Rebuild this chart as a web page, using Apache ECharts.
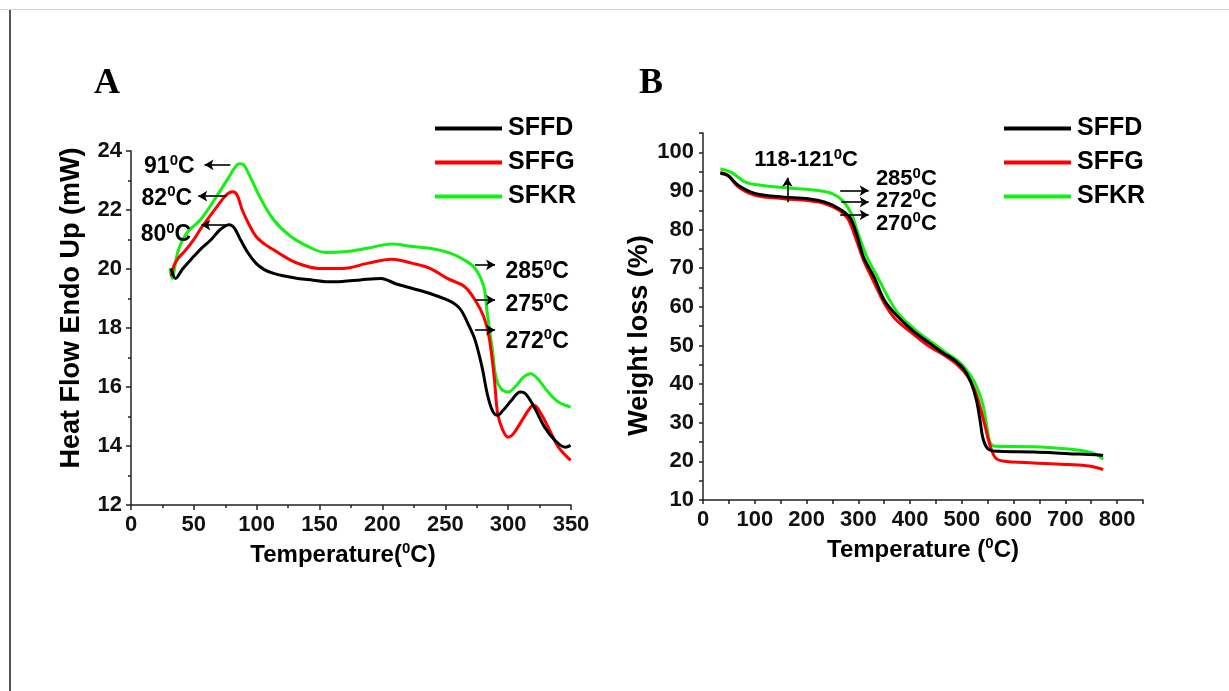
<!DOCTYPE html>
<html>
<head>
<meta charset="utf-8">
<script src="https://cdn.jsdelivr.net/npm/echarts@6/dist/echarts.min.js"></script>
<style>
  html, body { margin: 0; padding: 0; background: #fff; }
  #topline { position: absolute; left: 0; top: 9px; width: 1229px; height: 0; border-top: 1px solid #d4d4d4; }
  #leftline { position: absolute; left: 9px; top: 10px; width: 0; height: 681px; border-left: 2px solid #555; }
  #chart { position: absolute; left: 0; top: 0; width: 1229px; height: 691px; }
</style>
</head>
<body>
<div id="topline"></div>
<div id="leftline"></div>
<div id="chart"></div>
<script>
// ---- panel A : DSC, heat flow (mW) vs temperature (C)
var dscT_SFFD  = [32, 35.4, 41, 49.8, 56, 63.6, 70, 74.6, 78, 82, 87.1, 93, 99.5, 106, 113.4, 122, 132.7, 145, 154.8, 168, 182.5, 199, 210, 224, 237.8, 251.6, 258, 262.6, 268, 273.7, 279.2, 283.4, 287.5, 291.7, 295.8, 302.7, 309.6, 313.8, 320.7, 329, 337.3, 345.6, 349.7];
var dscHF_SFFD = [20.02, 19.68, 20.0, 20.42, 20.7, 20.99, 21.3, 21.45, 21.5, 21.4, 20.99, 20.55, 20.19, 19.98, 19.85, 19.76, 19.68, 19.62, 19.57, 19.58, 19.63, 19.68, 19.51, 19.34, 19.17, 18.95, 18.8, 18.6, 18.15, 17.59, 16.68, 15.77, 15.2, 15.04, 15.2, 15.55, 15.83, 15.77, 15.32, 14.64, 14.19, 13.96, 14.02];

var dscT_SFFG  = [32, 34, 37.3, 43, 49.8, 56, 63.6, 69, 74.6, 78, 81, 84.5, 88.5, 94, 99.5, 106, 113.4, 122, 132.7, 149.3, 168.6, 188, 207.4, 224, 237.8, 251.6, 265.4, 273.7, 280.6, 284.8, 288.9, 291.7, 295.8, 300, 304.1, 311, 318, 320.7, 326.2, 333.1, 340, 349.7];
var dscHF_SFFG = [19.75, 20.1, 20.35, 20.62, 20.99, 21.4, 21.84, 22.15, 22.46, 22.58, 22.62, 22.5, 22.0, 21.5, 21.1, 20.85, 20.65, 20.42, 20.19, 20.02, 20.02, 20.19, 20.33, 20.19, 20.02, 19.68, 19.4, 18.95, 18.38, 17.7, 16.34, 15.09, 14.53, 14.3, 14.41, 14.87, 15.32, 15.38, 15.09, 14.53, 13.96, 13.51];

var dscT_SFKR  = [31, 32.6, 37.3, 44.2, 55.3, 66.4, 77.4, 82, 86, 89, 94, 102.3, 113.4, 127.2, 143.8, 154.8, 171.4, 188, 207.4, 224, 237.8, 254.4, 265.4, 273.7, 280.6, 283.4, 287.5, 290.3, 294.4, 300, 305.5, 312.4, 318, 323.5, 331.8, 340, 349.7];
var dscHF_SFKR = [20.02, 19.68, 20.59, 21.21, 21.67, 22.35, 23.08, 23.4, 23.57, 23.55, 23.2, 22.46, 21.67, 21.1, 20.7, 20.56, 20.59, 20.7, 20.85, 20.76, 20.7, 20.53, 20.3, 20.02, 19.4, 18.5, 17.25, 16.34, 15.94, 15.83, 16.0, 16.34, 16.45, 16.28, 15.83, 15.49, 15.32];

// ---- panel B : TGA, weight loss (%) vs temperature (C)
var tgaT_SFFD  = [33.6, 48.3, 68.5, 102, 155.7, 202.7, 236, 263, 283.2, 296.6, 310, 330, 350.3, 370.5, 404, 437.6, 464.4, 484.6, 504.7, 518, 528, 535, 541.6, 551.7, 571.8, 639, 706, 759.7, 773];
var tgaW_SFFD  = [94.6, 94.0, 91.4, 89.3, 88.4, 88.0, 87.1, 85.4, 83.2, 78.9, 72.9, 67.8, 61.7, 58.3, 54.0, 50.6, 48.0, 46.3, 43.7, 40.3, 36.0, 30.8, 25.6, 23.1, 22.6, 22.4, 22.0, 21.7, 21.5];

var tgaT_SFFG  = [33.6, 48.3, 68.5, 102, 155.7, 202.7, 236, 263, 279.9, 296.6, 310, 330, 350.3, 370.5, 404, 437.6, 464.4, 491.3, 511.4, 524.8, 535, 545, 555, 565, 578.5, 639, 706, 746, 773];
var tgaW_SFFG  = [94.8, 94.0, 91.0, 88.8, 88.0, 87.5, 86.7, 85.0, 82.8, 77.2, 72.1, 66.5, 60.9, 57.0, 53.2, 49.7, 47.6, 45.0, 42.0, 38.5, 34.2, 29.1, 23.9, 20.9, 20.1, 19.6, 19.2, 18.8, 17.9];

var tgaT_SFKR  = [33.6, 55, 81.9, 115.4, 169, 222.8, 249.7, 269.8, 286.6, 300, 316.8, 337, 357, 377.2, 410.7, 444.3, 471, 498, 518, 531.5, 541.6, 548.3, 555, 565, 639, 706, 739.6, 759.7, 773];
var tgaW_SFKR  = [95.7, 94.8, 92.3, 91.4, 90.7, 90.1, 89.3, 87.5, 84.1, 78.9, 72.9, 67.8, 62.6, 58.3, 54.0, 50.6, 48.0, 45.4, 42.0, 38.5, 34.2, 29.1, 24.8, 23.9, 23.8, 23.2, 22.6, 21.8, 20.5];

var seriesNames = ['SFFD', 'SFFG', 'SFKR'];
var seriesColors = ['#000000', '#ff0000', '#14f014'];

// annotations: arrow [x0, y0, x1, y1] (head at x1,y1) and label [x, y, text, side]
var arrowsA = [[79, 23.53, 58.5, 23.53], [76, 22.47, 53.5, 22.47], [76, 21.49, 56, 21.49],
               [273.7, 20.14, 289.6, 20.14], [273.7, 18.95, 289.6, 18.95], [273.7, 17.93, 289.6, 17.93]];
var labelsA = [[51, 23.46, '91', 'left'], [49, 22.4, '82', 'left'], [48.3, 21.15, '80', 'left'],
               [297.5, 19.9, '285', 'right'], [297.5, 18.78, '275', 'right'], [297.5, 17.55, '272', 'right']];
var arrowsB = [[163, 87.1, 163, 93.4], [265, 90.1, 320, 90.1], [267, 87.1, 320, 87.1], [265, 83.8, 320, 83.8]];
var labelsB = [[199, 97.9, '118-121', 'center'], [333, 93.0, '285', 'right'], [333, 87.5, '272', 'right'], [333, 81.5, '270', 'right']];

var fontFam = '"Liberation Sans", Arial, sans-serif';

function zip(xs, ys) {
  return xs.map(function (x, i) { return [x, ys[i]]; });
}

function degRich(size, supSize) {
  return {
    n: { fontSize: size, fontWeight: 'bold', fontFamily: fontFam, color: '#000', lineHeight: size + 4 },
    s: { fontSize: supSize, fontWeight: 'bold', fontFamily: fontFam, color: '#000', lineHeight: supSize, verticalAlign: 'top' }
  };
}

function markLines(list) {
  return {
    silent: true,
    symbol: ['none', 'arrow'],
    symbolSize: [8, 9],
    lineStyle: { color: '#000', width: 1.6, type: 'solid' },
    label: { show: false },
    data: list.map(function (a) { return [{ coord: [a[0], a[1]] }, { coord: [a[2], a[3]] }]; })
  };
}

function markPoints(list, size, supSize) {
  return {
    silent: true,
    symbol: 'circle',
    symbolSize: 1,
    itemStyle: { color: 'rgba(0,0,0,0)' },
    data: list.map(function (l) {
      var pos = l[3] === 'center' ? 'inside' : l[3] === 'left' ? 'left' : 'right';
      return {
        coord: [l[0], l[1]],
        label: {
          show: true, position: pos, distance: 0,
          formatter: '{n|' + l[2] + '}{s|0}{n|C}',
          rich: degRich(size, supSize)
        }
      };
    })
  };
}

function xAxisBase(idx) {
  return {
    type: 'value', gridIndex: idx,
    nameLocation: 'middle',
    axisLine: { show: true, onZero: false, lineStyle: { color: '#222', width: 1.5 } },
    axisTick: { show: true, length: 5, lineStyle: { color: '#222', width: 1.5 } },
    minorTick: { show: false },
    splitLine: { show: false },
    axisLabel: { fontSize: 22, fontWeight: 'bold', fontFamily: fontFam, color: '#111', margin: 9 },
    nameTextStyle: { rich: degRich(24, 15) }
  };
}

function yAxisBase(idx) {
  return {
    type: 'value', gridIndex: idx,
    nameLocation: 'middle',
    axisLine: { show: true, onZero: false, lineStyle: { color: '#222', width: 1.5 } },
    axisTick: { show: true, length: 5, lineStyle: { color: '#222', width: 1.5 } },
    splitLine: { show: false },
    axisLabel: { fontSize: 22, fontWeight: 'bold', fontFamily: fontFam, color: '#111', margin: 9 }
  };
}

var xA = xAxisBase(0);
xA.min = 0; xA.max = 350; xA.interval = 50;
xA.minorTick = { show: true, splitNumber: 2, length: 3, lineStyle: { color: '#222', width: 1.5 } };
xA.name = '{n|Temperature(}{s|0}{n|C)}';
xA.nameGap = 31;
xA.nameTextStyle = { rich: degRich(24, 15), padding: [0, 16, 0, 0] };

var xB = xAxisBase(1);
xB.min = 0; xB.max = 850; xB.interval = 50;
xB.axisTick.length = 4;
xB.axisLabel.formatter = function (v) { return (v % 100 === 0 && v <= 800) ? String(v) : ''; };
xB.name = '{n|Temperature (}{s|0}{n|C)}';
xB.nameGap = 31;

var yA = yAxisBase(0);
yA.min = 12; yA.max = 24; yA.interval = 2;
yA.minorTick = { show: true, splitNumber: 2, length: 3, lineStyle: { color: '#222', width: 1.5 } };
yA.name = 'Heat Flow Endo Up (mW)';
yA.nameGap = 46;
yA.nameTextStyle = { fontSize: 27, fontWeight: 'bold', fontFamily: fontFam, color: '#000', padding: [0, 0, 0, 40] };

var yB = yAxisBase(1);
yB.min = 10; yB.max = 105; yB.interval = 5;
yB.axisTick.length = 4;
yB.axisLabel.formatter = function (v) { return (v % 10 === 0 && v <= 100) ? String(v) : ''; };
yB.name = 'Weight loss (%)';
yB.nameGap = 46;
yB.nameTextStyle = { fontSize: 27, fontWeight: 'bold', fontFamily: fontFam, color: '#000', padding: [0, 38, 0, 0] };

var series = [];
var dscSets = [zip(dscT_SFFD, dscHF_SFFD), zip(dscT_SFFG, dscHF_SFFG), zip(dscT_SFKR, dscHF_SFKR)];
var tgaSets = [zip(tgaT_SFFD, tgaW_SFFD), zip(tgaT_SFFG, tgaW_SFFG), zip(tgaT_SFKR, tgaW_SFKR)];

dscSets.forEach(function (d, i) {
  series.push({
    name: seriesNames[i], type: 'line', xAxisIndex: 0, yAxisIndex: 0,
    data: d, smooth: 0.35, showSymbol: false, symbol: 'none',
    lineStyle: { color: seriesColors[i], width: 3 }, itemStyle: { color: seriesColors[i] },
    z: 3 - i + 2
  });
});
tgaSets.forEach(function (d, i) {
  series.push({
    name: seriesNames[i], type: 'line', xAxisIndex: 1, yAxisIndex: 1,
    data: d, smooth: 0.35, showSymbol: false, symbol: 'none',
    lineStyle: { color: seriesColors[i], width: 3 }, itemStyle: { color: seriesColors[i] },
    z: 3 - i + 2
  });
});
series[0].markLine = markLines(arrowsA);
series[0].markPoint = markPoints(labelsA, 23, 15);
series[3].markLine = markLines(arrowsB);
series[3].markPoint = markPoints(labelsB, 22, 15);

function legendAt(left) {
  return {
    orient: 'vertical', left: left, top: 116, padding: 0,
    icon: 'rect', itemWidth: 67, itemHeight: 4, itemGap: 9,
    selectedMode: false,
    data: seriesNames,
    textStyle: { fontSize: 25, fontWeight: 'bold', fontFamily: fontFam, color: '#000', padding: [0, 0, 0, 1] }
  };
}

var chart = echarts.init(document.getElementById('chart'), null, { renderer: 'canvas' });
chart.setOption({
  animation: false,
  backgroundColor: 'transparent',
  title: [
    { text: 'A', left: 89, top: 61, textStyle: { fontFamily: '"Liberation Serif", "Times New Roman", serif', fontWeight: 'bold', fontSize: 36, color: '#000' } },
    { text: 'B', left: 634, top: 61, textStyle: { fontFamily: '"Liberation Serif", "Times New Roman", serif', fontWeight: 'bold', fontSize: 36, color: '#000' } }
  ],
  legend: [legendAt(435), legendAt(1004)],
  grid: [
    { left: 131, top: 151, width: 440, height: 354 },
    { left: 703, top: 133, width: 440, height: 367 }
  ],
  xAxis: [xA, xB],
  yAxis: [yA, yB],
  series: series
});
</script>
</body>
</html>
